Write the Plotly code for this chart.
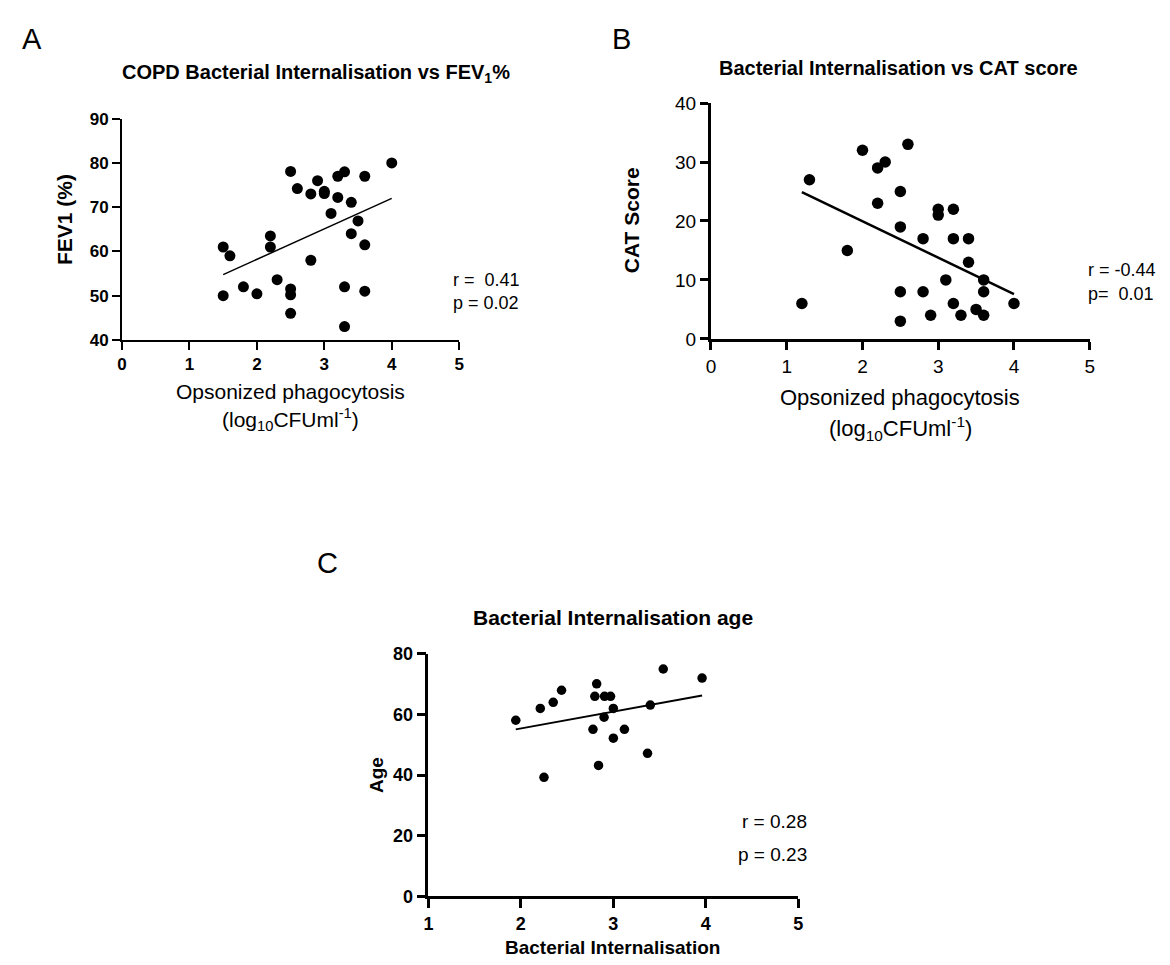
import plotly.graph_objects as go

W, H = 1170, 965

# ---------------- data ----------------
# Panel A: opsonized phagocytosis vs FEV1 (%)
fev_x = [1.5, 1.5, 1.6, 1.8, 2.0, 2.2, 2.2, 2.3, 2.5, 2.5, 2.5, 2.5, 2.6, 2.8, 2.8, 2.9,
         3.0, 3.0, 3.1, 3.2, 3.2, 3.3, 3.3, 3.3, 3.4, 3.4, 3.5, 3.6, 3.6, 3.6, 4.0]
fev_y = [50, 61, 59, 52, 50.4, 63.5, 61, 53.6, 78.1, 51.5, 50.2, 46, 74.2, 73, 58, 76,
         73.6, 73.1, 68.6, 77, 72.2, 78, 52, 43, 71.1, 64, 66.9, 77, 61.5, 51, 80]
fev_fit_x = [1.5, 4.0]
fev_fit_y = [54.75, 72.0]

# Panel B: opsonized phagocytosis vs CAT score
cat_x = [1.2, 1.3, 1.8, 2.0, 2.2, 2.2, 2.3, 2.5, 2.5, 2.5, 2.5, 2.6, 2.8, 2.8, 2.9,
         3.0, 3.0, 3.1, 3.2, 3.2, 3.2, 3.3, 3.4, 3.4, 3.5, 3.6, 3.6, 3.6, 4.0]
cat_y = [6, 27, 15, 32, 29, 23, 30, 25, 19, 8, 3, 33, 17, 8, 4,
         22, 21, 10, 22, 17, 6, 4, 17, 13, 5, 10, 8, 4, 6]
cat_fit_x = [1.2, 4.0]
cat_fit_y = [24.9, 7.6]

# Panel C: bacterial internalisation vs age
age_x = [1.945, 2.21, 2.35, 2.44, 2.25, 2.82, 2.80, 2.905, 2.97, 3.0, 2.90, 2.78,
         3.0, 3.12, 2.84, 3.40, 3.37, 3.54, 3.96]
age_y = [58.1, 62.0, 64.0, 68.0, 39.3, 70.1, 66.0, 66.0, 66.0, 62.0, 59.1, 55.1,
         52.2, 55.1, 43.2, 63.1, 47.2, 75.0, 72.0]
age_fit_x = [1.945, 3.96]
age_fit_y = [55.1, 66.3]

fev_xticks = [0, 1, 2, 3, 4, 5]
fev_yticks = [40, 50, 60, 70, 80, 90]
cat_xticks = [0, 1, 2, 3, 4, 5]
cat_yticks = [0, 10, 20, 30, 40]
age_xticks = [1, 2, 3, 4, 5]
age_yticks = [0, 20, 40, 60, 80]

# ---------------- helpers ----------------
FONT = "Arial, Liberation Sans, Helvetica, sans-serif"


def fx(px):
    return px / W


def fy(py):
    return 1 - py / H


fig = go.Figure()

# markers / fit lines
fig.add_trace(go.Scatter(x=fev_x, y=fev_y, mode="markers", xaxis="x", yaxis="y",
                         marker=dict(color="black", size=11), cliponaxis=False, showlegend=False))
fig.add_trace(go.Scatter(x=fev_fit_x, y=fev_fit_y, mode="lines", xaxis="x", yaxis="y",
                         line=dict(color="black", width=1.5), showlegend=False))

fig.add_trace(go.Scatter(x=cat_x, y=cat_y, mode="markers", xaxis="x2", yaxis="y2",
                         marker=dict(color="black", size=11.5), cliponaxis=False, showlegend=False))
fig.add_trace(go.Scatter(x=cat_fit_x, y=cat_fit_y, mode="lines", xaxis="x2", yaxis="y2",
                         line=dict(color="black", width=2.5), showlegend=False))

fig.add_trace(go.Scatter(x=age_x, y=age_y, mode="markers", xaxis="x3", yaxis="y3",
                         marker=dict(color="black", size=9.5), cliponaxis=False, showlegend=False))
fig.add_trace(go.Scatter(x=age_fit_x, y=age_fit_y, mode="lines", xaxis="x3", yaxis="y3",
                         line=dict(color="black", width=2), showlegend=False))


def axis(domain, rng, ticks, anchor, lw, tfont, tlen):
    return dict(domain=domain, range=rng, tickvals=ticks, ticktext=[str(t) for t in ticks],
                anchor=anchor, showline=True, linecolor="black", linewidth=lw,
                ticks="outside", ticklen=tlen, tickwidth=lw, tickcolor="black",
                showgrid=False, zeroline=False, tickfont=tfont, fixedrange=True)


boldA = dict(family=FONT, size=17, color="black", weight="bold")
regB = dict(family=FONT, size=19, color="black")
boldC = dict(family=FONT, size=18, color="black", weight="bold")

fig.update_layout(
    width=W, height=H,
    margin=dict(l=0, r=0, t=0, b=0),
    paper_bgcolor="white", plot_bgcolor="white",
    showlegend=False,
    xaxis=axis([fx(110), fx(450)], [0, 5], fev_xticks, "y", 2, boldA, 8),
    yaxis=axis([fy(329), fy(103)], [40, 90], fev_yticks, "x", 2, boldA, 8),
    xaxis2=axis([fx(704), fx(1086)], [0, 5], cat_xticks, "y2", 3, regB, 8),
    yaxis2=axis([fy(328), fy(87)], [0, 40], cat_yticks, "x2", 3, regB, 8),
    xaxis3=axis([fx(419), fx(792)], [1, 5], age_xticks, "y3", 2.5, boldC, 9),
    yaxis3=axis([fy(898), fy(650)], [0, 80], age_yticks, "x3", 2.5, boldC, 9),
)


def ann(text, x, y, size, bold=False, xanchor="center", yanchor="middle", angle=0):
    f = dict(family=FONT, size=size, color="black")
    if bold:
        f["weight"] = "bold"
    fig.add_annotation(text=text, x=fx(x), y=fy(y), xref="paper", yref="paper",
                       showarrow=False, font=f, xanchor=xanchor, yanchor=yanchor,
                       textangle=angle)


# panel letters
ann("A", 19, 21, 29)
ann("B", 614, 21, 29)
ann("C", 317, 557, 29)

# titles
ann("COPD Bacterial Internalisation vs FEV<sub>1</sub>%", 108, 57, 20, bold=True, xanchor="left")
ann("Bacterial Internalisation vs CAT score", 710, 51, 20, bold=True, xanchor="left")
ann("Bacterial Internalisation age", 605, 613, 21, bold=True)

# axis titles
ann("FEV1 (%)", 52, 206, 21, bold=True, angle=-90)
ann("Opsonized phagocytosis", 280, 382, 21)
ann("(log<sub>10</sub>CFUml<sup>-1</sup>)", 280, 410, 21)

ann("CAT Score", 624, 207, 21, bold=True, angle=-90)
ann("Opsonized phagocytosis", 895, 388, 22)
ann("(log<sub>10</sub>CFUml<sup>-1</sup>)", 895, 420, 22)

ann("Age", 366, 774, 19, bold=True, angle=-90)
ann("Bacterial Internalisation", 605, 950, 19, bold=True)

# statistics
ann("r =\u00a0 0.41", 442, 268, 18, xanchor="left")
ann("p = 0.02", 442, 291, 18, xanchor="left")
ann("r = -0.44", 1082, 258, 18, xanchor="left")
ann("p=\u00a0 0.01", 1082, 282, 18, xanchor="left")
ann("r = 0.28", 803, 821, 19, xanchor="right")
ann("p = 0.23", 803, 855, 19, xanchor="right")

fig.write_html("out.html")
